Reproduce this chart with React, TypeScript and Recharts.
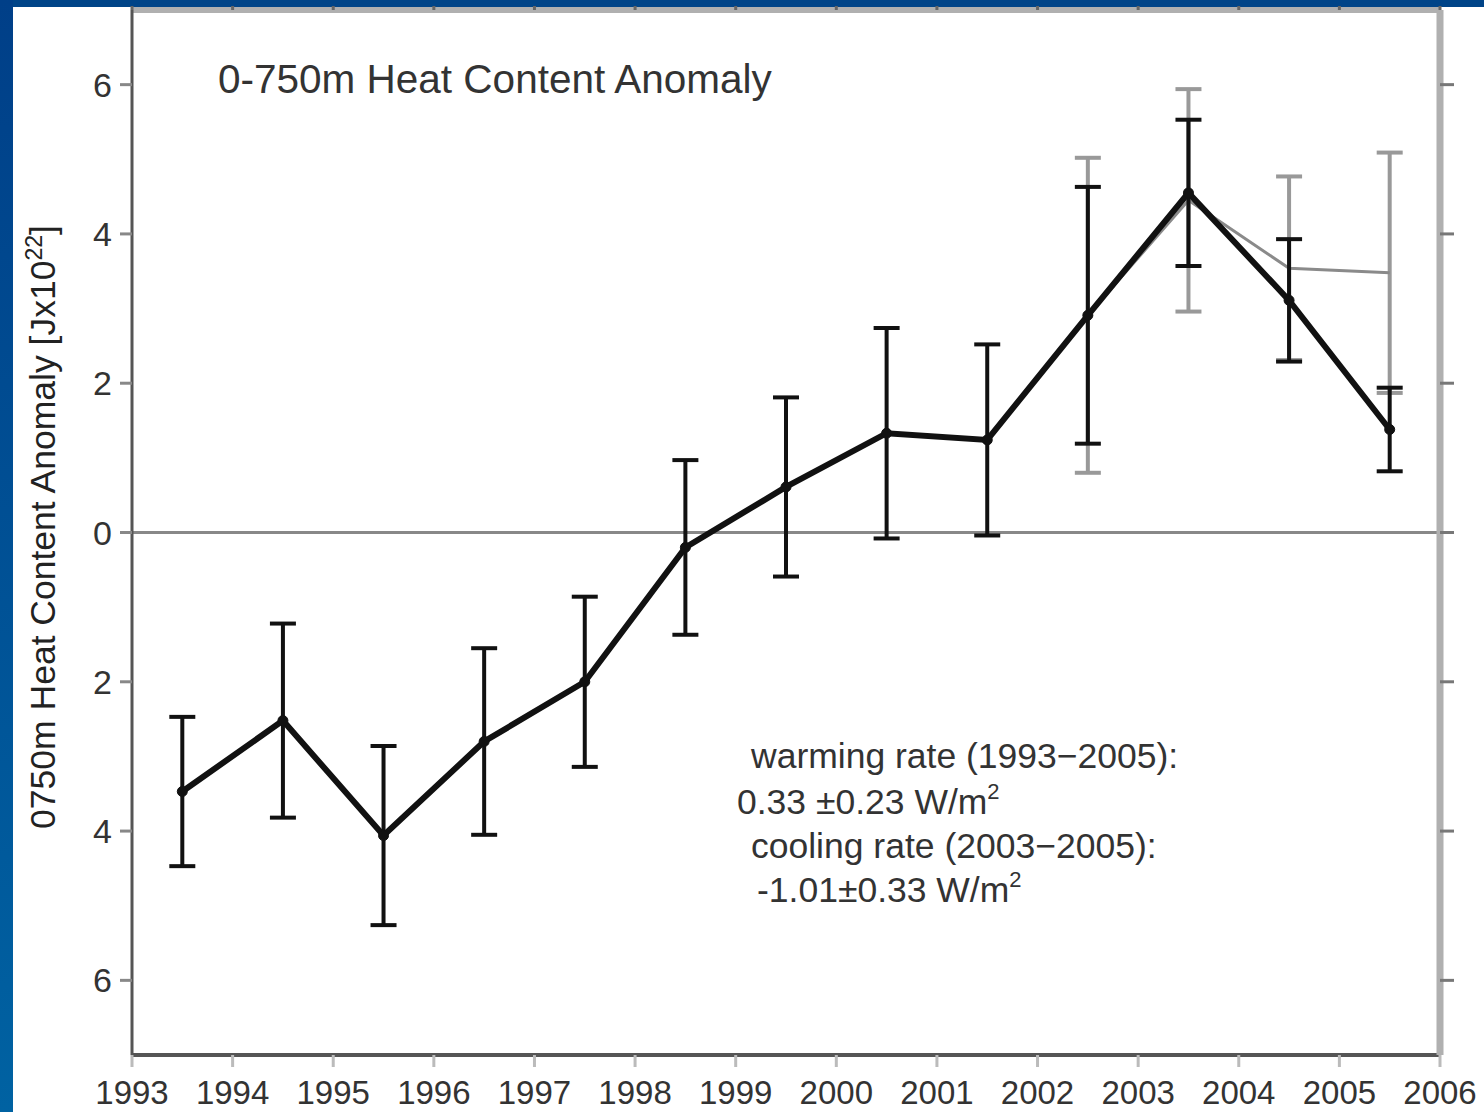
import React from 'react';
import { LineChart, Line, XAxis, YAxis, ErrorBar, ReferenceLine } from 'recharts';

// ---- data ----
const years = [1993.5, 1994.5, 1995.5, 1996.5, 1997.5, 1998.5, 1999.5, 2000.5, 2001.5, 2002.5, 2003.5, 2004.5, 2005.5];
const anomaly = [-3.47, -2.52, -4.06, -2.8, -2.0, -0.2, 0.61, 1.33, 1.24, 2.91, 4.55, 3.11, 1.38];
const anomalyErr = [1.0, 1.3, 1.2, 1.25, 1.14, 1.17, 1.2, 1.41, 1.28, 1.72, 0.98, 0.82, 0.56];

const altYears = [2002.5, 2003.5, 2004.5, 2005.5];
const altAnomaly = [2.91, 4.45, 3.54, 3.48];
const altErr = [2.11, 1.49, 1.23, 1.61];

const xTicks = [1993, 1994, 1995, 1996, 1997, 1998, 1999, 2000, 2001, 2002, 2003, 2004, 2005, 2006];
const yTicks = [-6, -4, -2, 0, 2, 4, 6];

const titleText = '0-750m Heat Content Anomaly';
const yLabelText = '0750m Heat Content Anomaly [Jx10';
const yLabelSup = '22';
const noteLines = [
  { text: 'warming rate (1993\u22122005):', sup: '' },
  { text: '0.33 \u00b10.23 W/m', sup: '2' },
  { text: 'cooling rate (2003\u22122005):', sup: '' },
  { text: '-1.01\u00b10.33 W/m', sup: '2' },
];

const mainData = years.map((y, i) => ({ year: y, value: anomaly[i], err: anomalyErr[i] }));
const altData = altYears.map((y, i) => ({ year: y, value: altAnomaly[i], err: altErr[i] }));

const FONT = '"Liberation Sans", Arial, sans-serif';
const W = 1484;
const H = 1112;

export default function App() {
  const noteX = [751, 737, 751, 757];
  const noteY = [768, 814, 858, 902];
  return (
    <div style={{ position: 'absolute', left: 0, top: 0, width: W, height: H, background: '#004488', overflow: 'hidden' }}>
      <div style={{ position: 'absolute', left: 0, top: 0, width: 13, height: H, background: 'linear-gradient(#003f88, #0062a2)' }} />
      <div style={{ position: 'absolute', left: 13, top: 7, width: W - 13, height: H - 7, background: '#ffffff' }} />
      <div style={{ position: 'absolute', left: 0, top: 0 }}>
        <LineChart width={W} height={H} margin={{ top: 6, right: 24, bottom: 7, left: 32 }}>
          <XAxis
            xAxisId="bottom"
            dataKey="year"
            type="number"
            domain={[1993, 2006]}
            ticks={xTicks}
            allowDataOverflow
            height={50}
            axisLine={{ stroke: '#555', strokeWidth: 4 }}
            tickLine={{ stroke: '#bbb', strokeWidth: 3 }}
            tickSize={12}
            tickMargin={14}
            tick={{ fill: '#333', fontSize: 33, fontFamily: FONT }}
            interval={0}
          />
          <XAxis
            xAxisId="top"
            orientation="top"
            dataKey="year"
            type="number"
            domain={[1993, 2006]}
            ticks={xTicks}
            allowDataOverflow
            height={4}
            axisLine={{ stroke: '#b0b0b0', strokeWidth: 6 }}
            tickLine={{ stroke: '#666', strokeWidth: 3 }}
            tickSize={4}
            tickFormatter={() => ''}
          />
          <YAxis
            yAxisId="left"
            type="number"
            domain={[-7, 7]}
            ticks={yTicks}
            allowDataOverflow
            width={100}
            axisLine={{ stroke: '#555', strokeWidth: 3 }}
            tickLine={{ stroke: '#888', strokeWidth: 3 }}
            tickSize={12}
            tickMargin={8}
            tick={{ fill: '#333', fontSize: 34, fontFamily: FONT }}
            tickFormatter={(v: number) => String(Math.abs(v))}
            interval={0}
          />
          <YAxis
            yAxisId="right"
            orientation="right"
            type="number"
            domain={[-7, 7]}
            ticks={yTicks}
            allowDataOverflow
            width={20}
            axisLine={{ stroke: '#b0b0b0', strokeWidth: 7 }}
            tickLine={{ stroke: '#777', strokeWidth: 3 }}
            tickSize={14}
            tickFormatter={() => ''}
          />
          <ReferenceLine xAxisId="bottom" yAxisId="left" y={0} stroke="#888" strokeWidth={3} />
          <Line
            xAxisId="bottom"
            yAxisId="left"
            data={altData}
            dataKey="value"
            stroke="#8a8a8a"
            strokeWidth={3}
            dot={false}
            isAnimationActive={false}
          >
            <ErrorBar dataKey="err" direction="y" width={13} stroke="#999" strokeWidth={4} />
          </Line>
          <Line
            xAxisId="bottom"
            yAxisId="left"
            data={mainData}
            dataKey="value"
            stroke="#111"
            strokeWidth={6}
            dot={{ r: 5, fill: '#111', stroke: '#111', strokeWidth: 1 }}
            isAnimationActive={false}
          >
            <ErrorBar dataKey="err" direction="y" width={13} stroke="#111" strokeWidth={4} />
          </Line>
        </LineChart>
      </div>
      <svg width={W} height={H} style={{ position: 'absolute', left: 0, top: 0, pointerEvents: 'none' }}>
        <text x={218} y={93} fontSize={40.5} fontFamily={FONT} fill="#333">{titleText}</text>
        <text
          x={55}
          y={527}
          transform="rotate(-90, 55, 527)"
          textAnchor="middle"
          fontSize={35.5}
          fontFamily={FONT}
          fill="#222"
        >
          {yLabelText}
          <tspan dy={-13} fontSize={23}>{yLabelSup}</tspan>
          <tspan dy={13}>]</tspan>
        </text>
        {noteLines.map((n, i) => (
          <text key={i} x={noteX[i]} y={noteY[i]} fontSize={35.5} fontFamily={FONT} fill="#333">
            {n.text}
            {n.sup ? <tspan dy={-15} fontSize={22}>{n.sup}</tspan> : null}
          </text>
        ))}
      </svg>
    </div>
  );
}
